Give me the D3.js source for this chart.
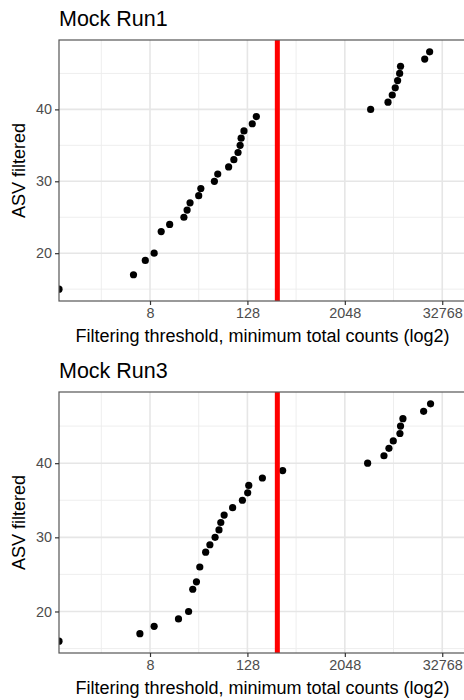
<!DOCTYPE html>
<html>
<head>
<meta charset="utf-8">
<script src="https://cdn.jsdelivr.net/npm/d3@7"></script>
<style>
  body { margin: 0; background: #fff; }
  svg { display: block; font-family: "Liberation Sans", Arial, sans-serif; }
</style>
</head>
<body>
<div id="graphContainer"></div>
<script>
// Data (0 = plotted at the left edge, like -Inf in log scale)
const run1Counts = [0, 5, 7, 9, 11, 14, 21, 23, 25, 32, 34, 50, 55, 75, 87, 98, 104, 107, 116, 147, 165,
  4270, 7000, 7900, 8600, 9200, 9750, 10000, 19900, 22900];
const run1Asv = [15, 17, 19, 20, 23, 24, 25, 26, 27, 28, 29, 30, 31, 32, 33, 34, 35, 36, 37, 38, 39,
  40, 41, 42, 43, 44, 45, 46, 47, 48];

const run3Counts = [0, 6, 9, 18, 24, 27, 30, 33, 39, 44, 51, 57, 60, 66, 84, 111, 129, 133, 196, 349,
  3920, 6240, 7190, 8130, 9830, 10000, 10700, 19300, 23500];
const run3Asv = [16, 17, 18, 19, 20, 23, 24, 26, 28, 29, 30, 31, 32, 33, 34, 35, 36, 37, 38, 39,
  40, 41, 42, 43, 44, 45, 46, 47, 48];

const panelTitles = ["Mock Run1", "Mock Run3"];
const thresholds = [300, 300];

const xTicks = [8, 128, 2048, 32768];
const xMinorTicks = [2, 32, 512, 8192];
const yTicks = [20, 30, 40];
const yMinorTicks = [15, 25, 35, 45];
const xDomain = [0.6, 96000];

const w = 464;
const h = 700;
const left = 59; // left edge of both panels
const right = 480; // panel runs past the window edge
const panelTops = [40, 392];
const panelHeight = 261;

const svg = d3
  .select("#graphContainer")
  .append("svg")
  .attr("width", w)
  .attr("height", h);

// shared log2 x scale
const xScale = d3.scaleLog().base(2).domain(xDomain).range([left, right]);

const panels = [
  { counts: run1Counts, asv: run1Asv },
  { counts: run3Counts, asv: run3Asv }
];

panels.forEach((p, i) => {
  const top = panelTops[i];
  const bottom = top + panelHeight;

  // y scale with ggplot-style 5% expansion
  const [lo, hi] = d3.extent(p.asv);
  const pad = (hi - lo) * 0.05;
  const yScale = d3.scaleLinear().domain([lo - pad, hi + pad]).range([bottom, top]);

  const g = svg.append("g");

  g.append("clipPath")
    .attr("id", "clip" + i)
    .append("rect")
    .attr("x", left)
    .attr("y", top)
    .attr("width", right - left)
    .attr("height", panelHeight);

  const inner = g.append("g").attr("clip-path", `url(#clip${i})`);

  // minor gridlines
  inner.selectAll(".xminor")
    .data(xMinorTicks)
    .enter()
    .append("line")
    .attr("x1", (d) => xScale(d))
    .attr("x2", (d) => xScale(d))
    .attr("y1", top)
    .attr("y2", bottom)
    .attr("stroke", "#ececec")
    .attr("stroke-width", 0.9);

  inner.selectAll(".yminor")
    .data(yMinorTicks)
    .enter()
    .append("line")
    .attr("x1", left)
    .attr("x2", right)
    .attr("y1", (d) => yScale(d))
    .attr("y2", (d) => yScale(d))
    .attr("stroke", "#ececec")
    .attr("stroke-width", 0.9);

  // major gridlines
  inner.selectAll(".xmajor")
    .data(xTicks)
    .enter()
    .append("line")
    .attr("x1", (d) => xScale(d))
    .attr("x2", (d) => xScale(d))
    .attr("y1", top)
    .attr("y2", bottom)
    .attr("stroke", "#e6e6e6")
    .attr("stroke-width", 1.6);

  inner.selectAll(".ymajor")
    .data(yTicks)
    .enter()
    .append("line")
    .attr("x1", left)
    .attr("x2", right)
    .attr("y1", (d) => yScale(d))
    .attr("y2", (d) => yScale(d))
    .attr("stroke", "#e6e6e6")
    .attr("stroke-width", 1.6);

  // points; zero counts sit on the left edge
  inner.selectAll("circle")
    .data(p.counts)
    .enter()
    .append("circle")
    .attr("cx", (d) => (d > 0 ? xScale(d) : left))
    .attr("cy", (_, j) => yScale(p.asv[j]))
    .attr("r", 3.6)
    .attr("fill", "black");

  // threshold line
  inner.append("line")
    .attr("x1", xScale(thresholds[i]))
    .attr("x2", xScale(thresholds[i]))
    .attr("y1", top)
    .attr("y2", bottom)
    .attr("stroke", "#ff0000")
    .attr("stroke-width", 5);

  // panel border
  g.append("rect")
    .attr("x", left)
    .attr("y", top)
    .attr("width", right - left)
    .attr("height", panelHeight)
    .attr("fill", "none")
    .attr("stroke", "#555")
    .attr("stroke-width", 1.2);

  // axes
  const xAxis = d3.axisBottom(xScale)
    .tickValues(xTicks)
    .tickFormat(d3.format("d"))
    .tickSize(4)
    .tickPadding(3);
  const xg = g.append("g")
    .attr("transform", "translate(0," + bottom + ")")
    .call(xAxis);

  const yAxis = d3.axisLeft(yScale)
    .tickValues(yTicks)
    .tickSize(4)
    .tickPadding(3);
  const yg = g.append("g")
    .attr("transform", "translate(" + left + ",0)")
    .call(yAxis);

  [xg, yg].forEach((ax) => {
    ax.select(".domain").remove();
    ax.selectAll(".tick line").attr("stroke", "#333").attr("stroke-width", 1.2);
    ax.selectAll(".tick text")
      .attr("fill", "#4d4d4d")
      .style("font-size", "14.4px")
      .style("font-family", "'Liberation Sans', Arial, sans-serif");
  });

  // titles
  g.append("text")
    .attr("x", left)
    .attr("y", top - 14)
    .style("font-size", "21.5px")
    .text(panelTitles[i]);

  g.append("text")
    .attr("x", 262.5)
    .attr("y", bottom + 41)
    .attr("text-anchor", "middle")
    .style("font-size", "18px")
    .text("Filtering threshold, minimum total counts (log2)");

  g.append("text")
    .attr("transform", `translate(25,${(top + bottom) / 2}) rotate(-90)`)
    .attr("text-anchor", "middle")
    .style("font-size", "18px")
    .text("ASV filtered");
});
</script>
</body>
</html>
